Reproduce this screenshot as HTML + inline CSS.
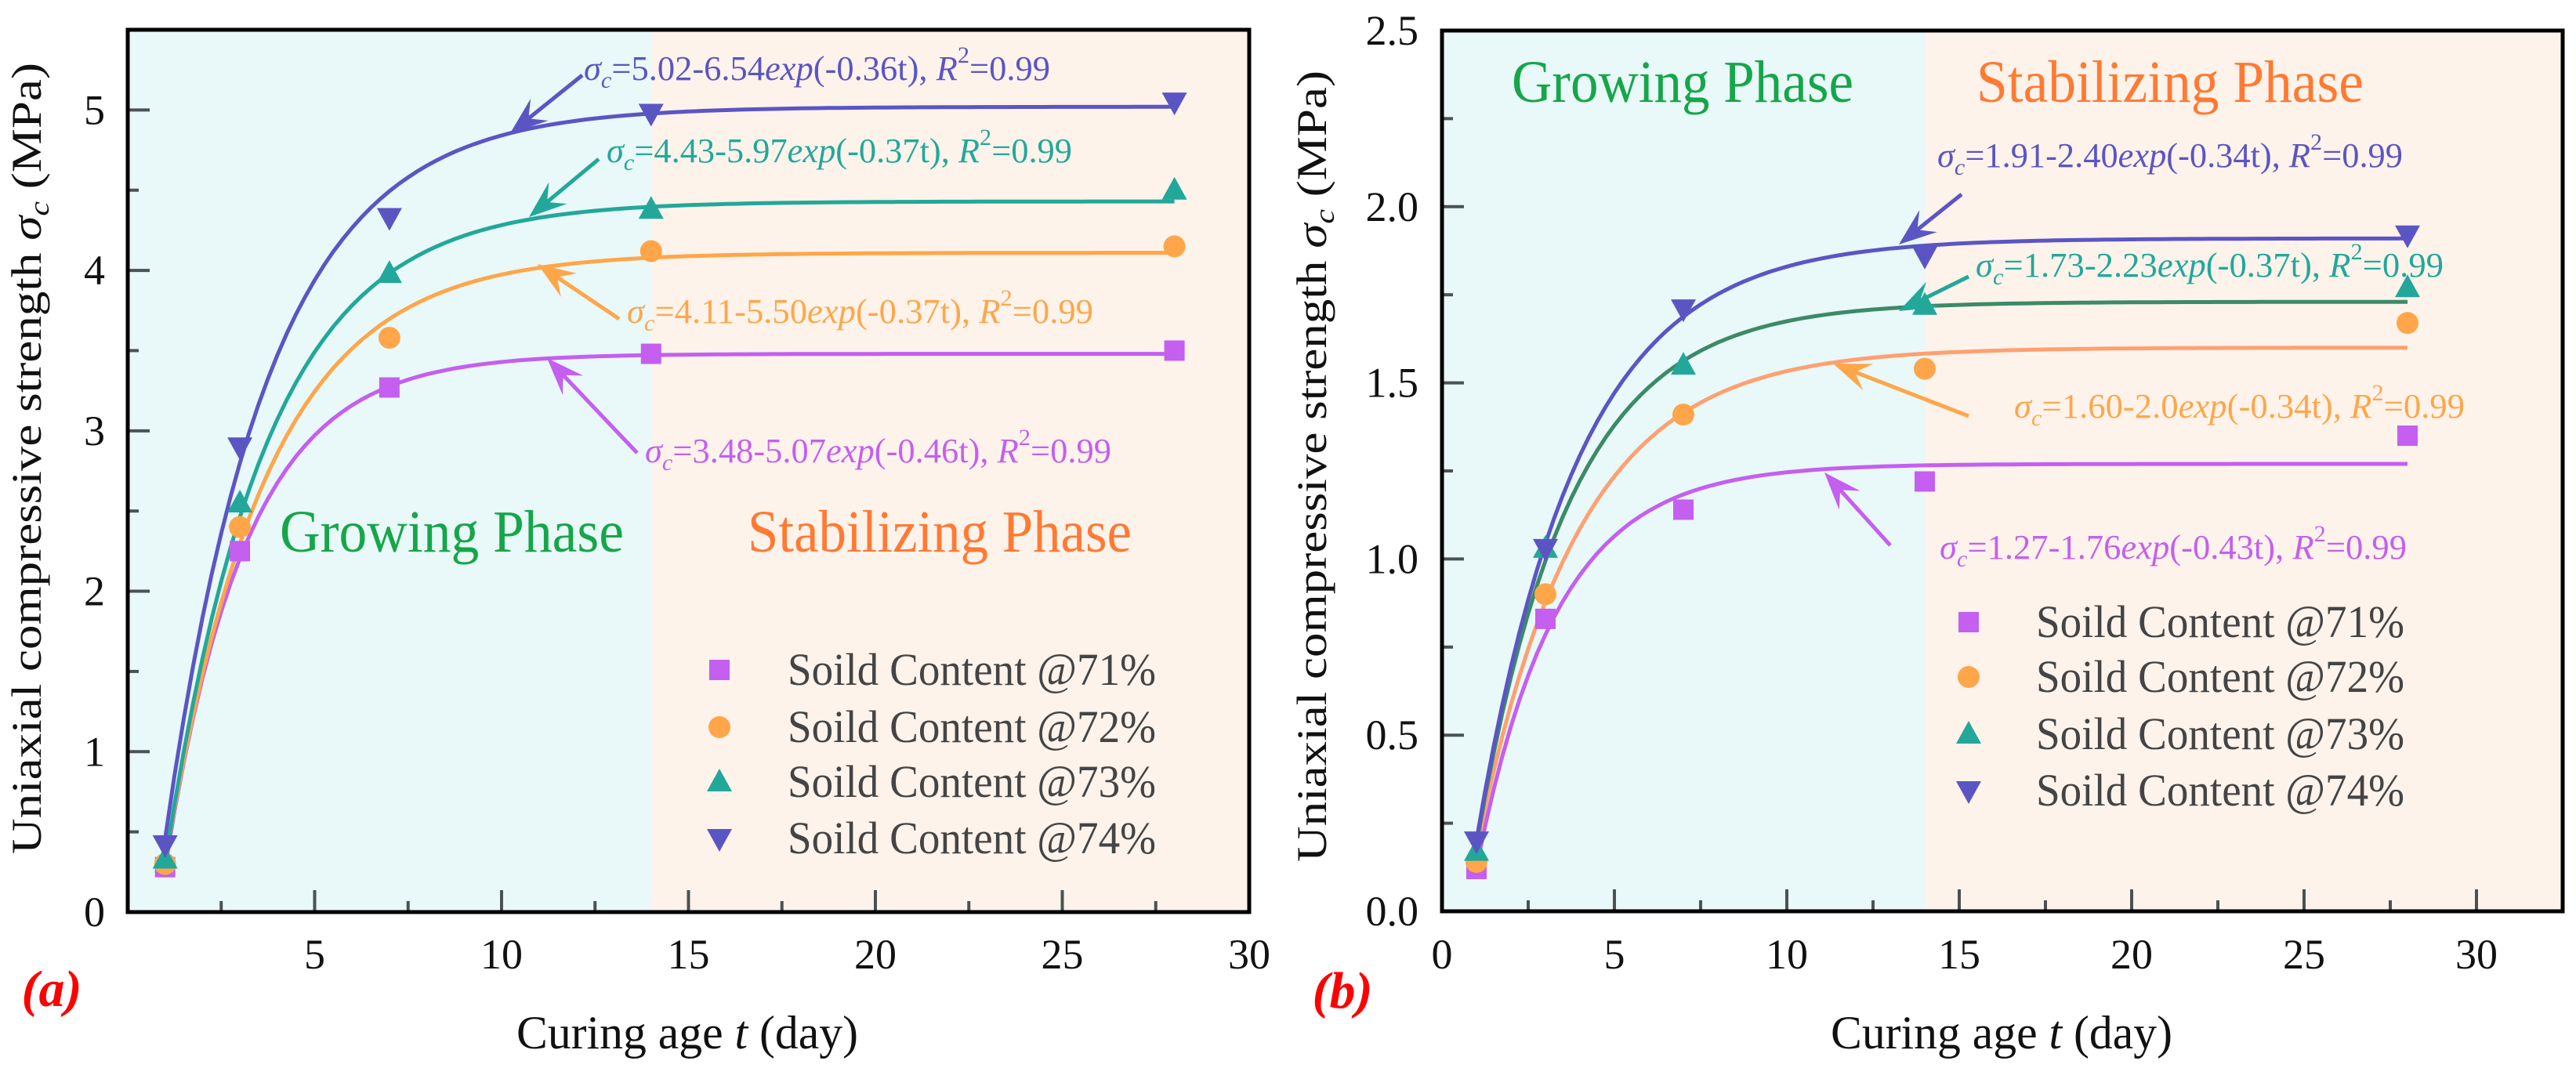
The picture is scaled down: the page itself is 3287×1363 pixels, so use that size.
<!DOCTYPE html>
<html><head><meta charset="utf-8"><style>
html,body{margin:0;padding:0;background:#fff;}
svg, svg text, svg tspan{font-family:"Liberation Serif","DejaVu Serif",serif;}
</style></head><body>
<svg id="fig" width="3287" height="1358" viewBox="0 0 3287 1358" xmlns="http://www.w3.org/2000/svg" font-family="Liberation Serif, serif"></svg>
<script>
// ---------- data ----------
const tDays = [1, 3, 7, 14, 28];
const seriesNames = ["Soild Content @71%", "Soild Content @72%", "Soild Content @73%", "Soild Content @74%"];
// panel (a)
const a71 = [0.28, 2.25, 3.27, 3.48, 3.50];
const a72 = [0.30, 2.40, 3.58, 4.12, 4.15];
const a73 = [0.33, 2.55, 3.98, 4.38, 4.50];
const a74 = [0.42, 2.90, 4.33, 4.98, 5.05];
const aFitA = [3.48, 4.11, 4.43, 5.02];
const aFitB = [5.07, 5.50, 5.97, 6.54];
const aFitK = [0.46, 0.37, 0.37, 0.36];
const aXTicks = [5, 10, 15, 20, 25, 30];
const aYTicks = [0, 1, 2, 3, 4, 5];
// panel (b)
const b71 = [0.12, 0.83, 1.14, 1.22, 1.35];
const b72 = [0.14, 0.90, 1.41, 1.54, 1.67];
const b73 = [0.17, 1.03, 1.55, 1.72, 1.77];
const b74 = [0.20, 1.03, 1.71, 1.86, 1.92];
const bFitA = [1.27, 1.60, 1.73, 1.91];
const bFitB = [1.76, 2.00, 2.23, 2.40];
const bFitK = [0.43, 0.34, 0.37, 0.34];
const bXTicks = [0, 5, 10, 15, 20, 25, 30];
const bYTicks = ["0.0", "0.5", "1.0", "1.5", "2.0", "2.5"];

const NS = "http://www.w3.org/2000/svg";
const svg = document.getElementById("fig");
const markerCol = ["#c45ff0", "#ffa64a", "#22a89a", "#5b55c4"];
const FF = '"Liberation Serif", "DejaVu Serif", serif';
function mk(tag, attrs, parent) {
  const e = document.createElementNS(NS, tag);
  for (const k in attrs) e.setAttribute(k, attrs[k]);
  if (tag === "text") e.style.fontFamily = FF;
  (parent || svg).appendChild(e);
  return e;
}

function eqText(g, x, y, w, color, A, B, K, name) {
  const t = mk("text", {x: x, y: y, fill: color, "font-size": 44, textLength: w, lengthAdjust: "spacingAndGlyphs"}, g);
  
  
  const parts = [["σ", "i"], ["c", "sub"], ["=" + A + "-" + B, "up"], ["exp", "i"], ["(-" + K + "t), ", ""], ["R", "i"], ["2", "sup"], ["=0.99", "down"]];
  parts.forEach(p => {
    const s = mk("tspan", {}, t);
    s.textContent = p[0];
    if (p[1] === "i") s.setAttribute("font-style", "italic");
    if (p[1] === "sub") { s.setAttribute("font-style", "italic"); s.setAttribute("font-size", 30); s.setAttribute("dy", 10); }
    if (p[1] === "sup") { s.setAttribute("font-size", 30); s.setAttribute("dy", -22); }
    if (p[1] === "up") s.setAttribute("dy", -10);
    if (p[1] === "down") s.setAttribute("dy", 22);
  });
}

function arrow(g, x1, y1, x2, y2, color, name) {
  const a = mk("g", {}, g);
  
  
  const dx = x2 - x1, dy = y2 - y1, L = Math.hypot(dx, dy), ux = dx / L, uy = dy / L, px = -uy, py = ux;
  const hl = 48, hw = 18, notch = 30;
  mk("line", {x1: x1, y1: y1, x2: x2 - ux * notch, y2: y2 - uy * notch, stroke: color, "stroke-width": 5}, a);
  const bx = x2 - ux * hl, by = y2 - uy * hl, nx = x2 - ux * notch, ny = y2 - uy * notch;
  mk("polygon", {points: `${x2},${y2} ${bx + px * hw},${by + py * hw} ${nx},${ny} ${bx - px * hw},${by - py * hw}`, fill: color}, a);
}

function marker(g, type, cx, cy, color, name) {
  let e;
  if (type === 0) e = mk("rect", {x: cx - 13, y: cy - 13, width: 26, height: 26, fill: color}, g);
  else if (type === 1) e = mk("circle", {cx: cx, cy: cy, r: 14, fill: color}, g);
  else if (type === 2) e = mk("polygon", {points: `${cx},${cy - 17} ${cx + 16},${cy + 12} ${cx - 16},${cy + 12}`, fill: color}, g);
  else e = mk("polygon", {points: `${cx},${cy + 17} ${cx + 16},${cy - 12} ${cx - 16},${cy - 12}`, fill: color}, g);
  
  
}

function panel(cfg) {
  const g = mk("g", {});
  
  
  const L = cfg.left, R = cfg.right, T = cfg.top, B = cfg.bottom;
  const X = v => L + (v - cfg.xmin) / (cfg.xmax - cfg.xmin) * (R - L);
  const Y = v => B - (v - cfg.ymin) / (cfg.ymax - cfg.ymin) * (B - T);
  const split = X(14);
  const bg1 = mk("rect", {x: L, y: T, width: split - L, height: B - T, fill: "#e9f8f8"}, g);
  
  
  const bg2 = mk("rect", {x: split, y: T, width: R - split, height: B - T, fill: "#fef3eb"}, g);
  
  
  for (let v = cfg.xmin; v <= cfg.xmax + 1e-9; v += 2.5) {
    const major = Math.abs(v / 5 - Math.round(v / 5)) < 1e-6;
    if (v <= cfg.xmin + 1e-9 || v >= cfg.xmax - 1e-9) continue;
    mk("line", {x1: X(v), y1: B, x2: X(v), y2: B - (major ? 28 : 14), stroke: "#4a5252", "stroke-width": 4}, g);
  }
  for (let v = cfg.ymin; v <= cfg.ymax + 1e-9; v += cfg.ystep / 2) {
    const major = Math.abs(v / cfg.ystep - Math.round(v / cfg.ystep)) < 1e-6;
    if (v <= cfg.ymin + 1e-9 || v >= cfg.ymax - 1e-9) continue;
    mk("line", {x1: L, y1: Y(v), x2: L + (major ? 28 : 14), y2: Y(v), stroke: "#4a5252", "stroke-width": 4}, g);
  }
  cfg.xTicks.forEach(v => {
    const t = mk("text", {x: X(v), y: 1236, "text-anchor": "middle", "font-size": 54, fill: "#111"}, g);
    t.textContent = v;
    
    
  });
  cfg.yTicks.forEach(v => {
    const t = mk("text", {x: cfg.ylabX, y: Y(parseFloat(v)) + 18, "text-anchor": "end", "font-size": 54, fill: "#111"}, g);
    t.textContent = v;
    
    
  });
  const fitCols = cfg.fitCols;
  for (let s = 0; s < 4; s++) {
    let d = "";
    for (let t = 1; t <= 28.001; t += 0.25) {
      const v = cfg.fa[s] - cfg.fb[s] * Math.exp(-cfg.fk[s] * t);
      d += (d ? "L" : "M") + X(t).toFixed(1) + "," + Y(v).toFixed(1);
    }
    const p = mk("path", {d: d, fill: "none", stroke: fitCols[s], "stroke-width": 5}, g);
    
    
  }
  cfg.series.forEach((arr, s) => {
    arr.forEach((v, i) => marker(g, s, X(tDays[i]), Y(v), markerCol[s], 'point-' + (71 + s) + '-day' + tDays[i]));
  });
  const fr = mk("rect", {x: L, y: T, width: R - L, height: B - T, fill: "none", stroke: "#000", "stroke-width": 5}, g);
  
  
  const gp = mk("text", {x: cfg.grow[0], y: cfg.grow[2], "font-size": 76, fill: "#16a64a", textLength: cfg.grow[1], lengthAdjust: "spacingAndGlyphs"}, g);
  gp.textContent = "Growing Phase";
  
  
  const sp = mk("text", {x: cfg.stab[0], y: cfg.stab[2], "font-size": 76, fill: "#ff7a33", textLength: cfg.stab[1], lengthAdjust: "spacingAndGlyphs"}, g);
  sp.textContent = "Stabilizing Phase";
  
  
  cfg.eqs.forEach((e, s) => {
    eqText(g, e[0], e[1], e[2], cfg.eqCols[s], cfg.fa[s].toFixed(2), cfg.fbTxt[s], cfg.fk[s].toFixed(2), 'fit-equation-' + (71 + s));
    arrow(g, cfg.arrows[s][0], cfg.arrows[s][1], cfg.arrows[s][2], cfg.arrows[s][3], cfg.eqCols[s], 'equation-arrow-' + (71 + s));
  });
  const lg = mk("g", {}, g);
  
  
  cfg.legendY.forEach((ly, s) => {
    marker(lg, s, cfg.legendMX, ly, markerCol[s], 'legend-marker-' + (71 + s));
    const t = mk("text", {x: cfg.legendTX, y: ly + 19, "font-size": 58, fill: "#444", textLength: 470, lengthAdjust: "spacingAndGlyphs"}, lg);
    t.textContent = seriesNames[s];
    
    
  });
  const xt = mk("text", {x: cfg.xTitleX - 218, y: 1338, "font-size": 60, fill: "#111", textLength: 436, lengthAdjust: "spacingAndGlyphs"}, g);
  
  
  const x1 = mk("tspan", {}, xt); x1.textContent = "Curing age ";
  const x2 = mk("tspan", {"font-style": "italic"}, xt); x2.textContent = "t";
  const x3 = mk("tspan", {}, xt); x3.textContent = " (day)";
  const yt = mk("text", {x: 0, y: 0, "font-size": 54, fill: "#111", textLength: 1010, lengthAdjust: "spacingAndGlyphs", transform: `translate(${cfg.yTitleX},${cfg.yTitleMid + 505}) rotate(-90)`}, g);
  
  
  const y1 = mk("tspan", {}, yt); y1.textContent = "Uniaxial compressive strength ";
  const y2 = mk("tspan", {"font-style": "italic"}, yt); y2.textContent = "σ";
  const y3 = mk("tspan", {"font-style": "italic", "font-size": 36, dy: 10}, yt); y3.textContent = "c";
  const y4 = mk("tspan", {dy: -10}, yt); y4.textContent = " (MPa)";
  const pl = mk("text", {x: cfg.tag[0], y: cfg.tag[1], "font-size": 66, fill: "#ff0000", "font-style": "italic", "font-weight": "bold", "text-anchor": "middle"}, g);
  pl.textContent = cfg.tagText;
  
  
}

panel({
  id: "panel-a", left: 163, right: 1594, top: 38, bottom: 1164,
  xmin: 0, xmax: 30, ymin: 0, ymax: 5.5, ystep: 1,
  xTicks: aXTicks, yTicks: aYTicks.map(String), ylabX: 134,
  series: [a71, a72, a73, a74], fa: aFitA, fb: aFitB, fk: aFitK, fbTxt: aFitB.map(v => v.toFixed(2)),
  fitCols: ["#c45ff0", "#ffa64a", "#22a89a", "#5b55c4"],
  eqCols: ["#c45ff0", "#ffa64a", "#22a89a", "#5b55c4"],
  eqs: [[823, 590, 595], [800, 412, 595], [774, 207, 594], [745, 102, 595]],
  arrows: [[813, 578, 698, 457], [790, 407, 686, 337], [764, 203, 675, 277], [743, 96, 651, 170]],
  grow: [357, 439, 704], stab: [954, 490, 704],
  legendMX: 918, legendTX: 1005, legendY: [855, 928, 998, 1070],
  xTitleX: 877, yTitleX: 52, yTitleMid: 585, tag: [66, 1284], tagText: "(a)"
});
panel({
  id: "panel-b", left: 1840, right: 3270, top: 39, bottom: 1163,
  xmin: 0, xmax: 32.5, ymin: 0, ymax: 2.5, ystep: 0.5,
  xTicks: bXTicks, yTicks: bYTicks, ylabX: 1810,
  series: [b71, b72, b73, b74], fa: bFitA, fb: bFitB, fk: bFitK, fbTxt: ["1.76", "2.0", "2.23", "2.40"],
  fitCols: ["#c45ff0", "#ffa070", "#3c8a68", "#5b55c4"],
  eqCols: ["#c45ff0", "#ffa64a", "#22a89a", "#5b55c4"],
  eqs: [[2475, 713, 596], [2570, 533, 575], [2521, 353, 597], [2472, 213, 594]],
  arrows: [[2412, 696, 2328, 603], [2512, 531, 2339, 464], [2512, 353, 2423, 397], [2503, 248, 2423, 312]],
  grow: [1929, 436, 130], stab: [2522, 494, 130],
  legendMX: 2512, legendTX: 2598, legendY: [794, 864, 937, 1009],
  xTitleX: 2554, yTitleX: 1692, yTitleMid: 595, tag: [1713, 1286], tagText: "(b)"
});
</script>
</body></html>
